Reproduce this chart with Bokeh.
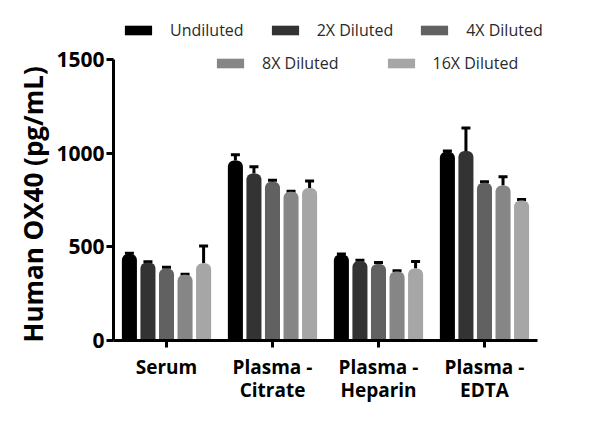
from bokeh.plotting import figure
from bokeh.models import (ColumnDataSource, Range1d, FixedTicker, Title,
                          Whisker, TeeHead, Legend, LegendItem)
from bokeh.transform import dodge
from bokeh.embed import file_html
from bokeh.resources import INLINE

categories = ["Serum", "Plasma -\nCitrate", "Plasma -\nHeparin", "Plasma -\nEDTA"]
series = ["Undiluted", "2X Diluted", "4X Diluted", "8X Diluted", "16X Diluted"]
undiluted = [462, 961, 459, 1008]
dil_2x = [416, 892, 424, 1011]
dil_4x = [385, 847, 408, 842]
dil_8x = [351, 794, 369, 828]
dil_16x = [413, 814, 385, 748]
err_undiluted = [4, 30, 3, 3]
err_2x = [5, 35, 5, 124]
err_4x = [6, 9, 8, 5]
err_8x = [2, 3, 4, 46]
err_16x = [91, 37, 37, 5]
y_ticks = [0, 500, 1000, 1500]

values = [undiluted, dil_2x, dil_4x, dil_8x, dil_16x]
errors = [err_undiluted, err_2x, err_4x, err_8x, err_16x]
colors = ["#000000", "#333333", "#616161", "#868686", "#a6a6a6"]
offsets = [-0.35, -0.175, 0.0, 0.175, 0.35]

FONT = "Open Sans"

# category centres on a numeric axis (one unit per category)
cat_pos = [i + 0.5 for i in range(len(categories))]

p = figure(width=600, height=433, x_range=Range1d(0, 4.17),
           y_range=Range1d(0, 1815), output_backend="svg", toolbar_location=None,
           min_border_left=113, min_border_right=45, min_border_top=0,
           min_border_bottom=93)
p.outline_line_color = None
p.grid.visible = False
p.background_fill_color = "white"
p.border_fill_color = "white"

renderers = []
for vals, errs, col, off in zip(values, errors, colors, offsets):
    src = ColumnDataSource(dict(pos=cat_pos, val=vals,
                                up=[v + e for v, e in zip(vals, errs)]))
    r = p.vbar(x=dodge("pos", off), top="val", width=0.142,
               source=src, fill_color=col, line_color=None, border_radius=(6, 6, 0, 0))
    renderers.append(r)
    w = Whisker(base=dodge("pos", off), lower="val", upper="up",
                source=src, dimension="height", line_color="black", line_width=3,
                upper_head=TeeHead(size=9, line_color="black", line_width=3),
                lower_head=None)
    p.add_layout(w)

# axes
for ax in (p.xaxis[0], p.yaxis[0]):
    ax.axis_line_width = 3
    ax.axis_line_color = "black"
    ax.major_tick_line_width = 3
    ax.major_tick_line_color = "black"
    ax.major_tick_in = 0
    ax.major_tick_out = 7
    ax.minor_tick_line_color = None
    ax.major_label_text_font = FONT
    ax.major_label_text_font_style = "bold"
    ax.major_label_text_color = "black"

p.yaxis.ticker = FixedTicker(ticks=y_ticks)
p.yaxis.bounds = (0, 1500)
p.yaxis.major_label_text_font_size = "21px"
p.yaxis.major_label_standoff = 2

p.xaxis.ticker = FixedTicker(ticks=cat_pos)
p.xaxis.major_label_overrides = {pos: name for pos, name in zip(cat_pos, categories)}
p.xaxis.bounds = (0, len(categories))
p.xaxis.major_label_text_font_size = "19px"
p.xaxis.major_label_standoff = 6
p.xaxis.major_label_text_line_height = 0.9

ytitle = Title(text="Human OX40 (pg/mL)", align="left", offset=-2,
               text_font=FONT, text_font_style="bold", text_font_size="26px",
               text_color="black", standoff=6)
p.add_layout(ytitle, "left")

# legends (two rows)
def make_legend(idx, loc, spacing):
    items = [LegendItem(label=series[i], renderers=[renderers[i]]) for i in idx]
    lg = Legend(items=items, location=loc, orientation="horizontal",
                background_fill_alpha=0, border_line_color=None, padding=0,
                margin=0, spacing=spacing, label_standoff=15, glyph_width=34,
                glyph_height=12, label_height=20,
                label_text_font=FONT, label_text_font_size="16px",
                label_text_color="#2a2a2a")
    return lg

p.add_layout(make_legend([0, 1, 2], (8, 299), 24), "center")
p.add_layout(make_legend([3, 4], (100, 266), 45), "center")

open("out.html", "w").write(file_html(p, INLINE))
